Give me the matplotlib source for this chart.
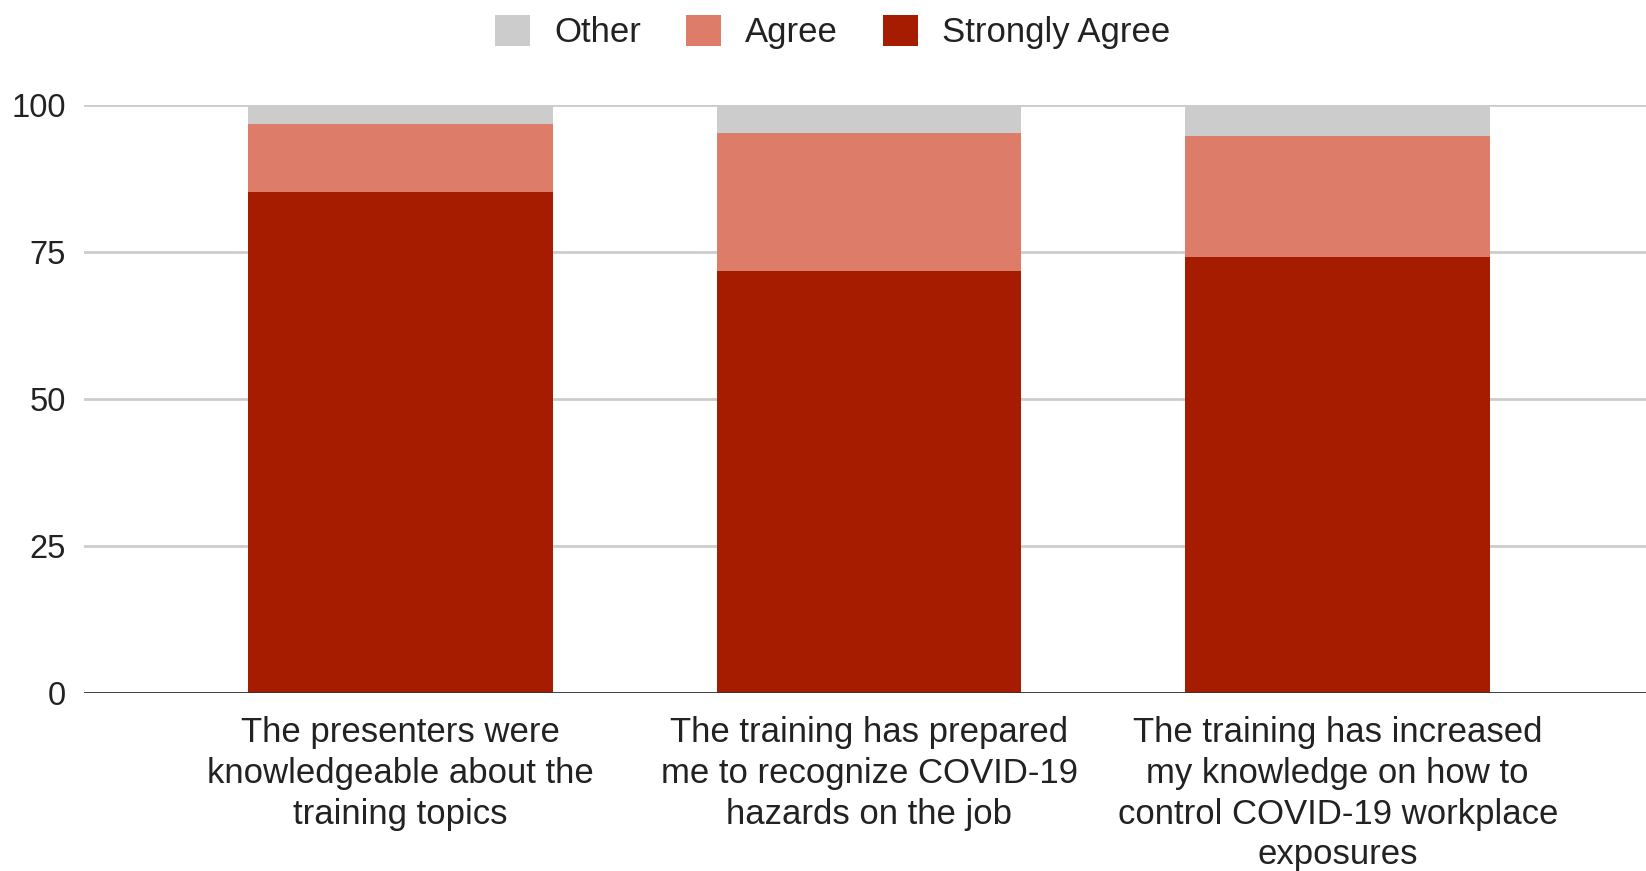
import numpy as np
import matplotlib.pyplot as plt

plt.rcParams['font.family'] = ['Liberation Sans', 'DejaVu Sans']

categories = [
    "The presenters were\nknowledgeable about the\ntraining topics",
    "The training has prepared\nme to recognize COVID-19\nhazards on the job",
    "The training has increased\nmy knowledge on how to\ncontrol COVID-19 workplace\nexposures",
]
strongly_agree = [85.2, 71.8, 74.2]
agree = [11.5, 23.4, 20.5]
other = [3.3, 4.8, 5.3]

colors = {'Other': '#cccccc', 'Agree': '#de7c6a', 'Strongly Agree': '#a61c00'}

fig = plt.figure(figsize=(16.46, 8.71), dpi=100)
ax = fig.add_axes([84 / 1646, 1 - 693 / 871, 1 - 84 / 1646, 588 / 871])

x = np.arange(len(categories))
w = 0.65
sa = np.array(strongly_agree)
ag = np.array(agree)
ot = np.array(other)

ax.bar(x, sa, w, color=colors['Strongly Agree'], label='Strongly Agree', zorder=3)
ax.bar(x, ag, w, bottom=sa, color=colors['Agree'], label='Agree', zorder=3)
ax.bar(x, ot, w, bottom=sa + ag, color=colors['Other'], label='Other', zorder=3)

ax.set_xlim(-0.676, 2.658)
ax.set_ylim(0, 100)
ax.set_yticks([0, 25, 50, 75, 100])
ax.grid(axis='y', color='#cccccc', linewidth=2, zorder=0)
ax.axhline(0, color='#333333', linewidth=2, zorder=4)
for s in ax.spines.values():
    s.set_visible(False)

ax.tick_params(axis='y', length=0, pad=13, labelsize=23.5, labelcolor='#222222')
ax.tick_params(axis='x', length=0, pad=16.5)
ax.set_xticks(x)
ax.set_xticklabels(categories, fontsize=25, color='#222222', linespacing=1.30,
                   va='top', ha='center')

handles, labels = ax.get_legend_handles_labels()
order = [2, 1, 0]
fig.legend([handles[i] for i in order], [labels[i] for i in order],
           loc='center', bbox_to_anchor=(833 / 1646, 1 - 32 / 871), ncol=3,
           frameon=False, fontsize=25, handlelength=1.0, handleheight=1.0,
           handletextpad=0.7, columnspacing=1.3, labelcolor='#222222')

fig.savefig('out.png', dpi=100)
